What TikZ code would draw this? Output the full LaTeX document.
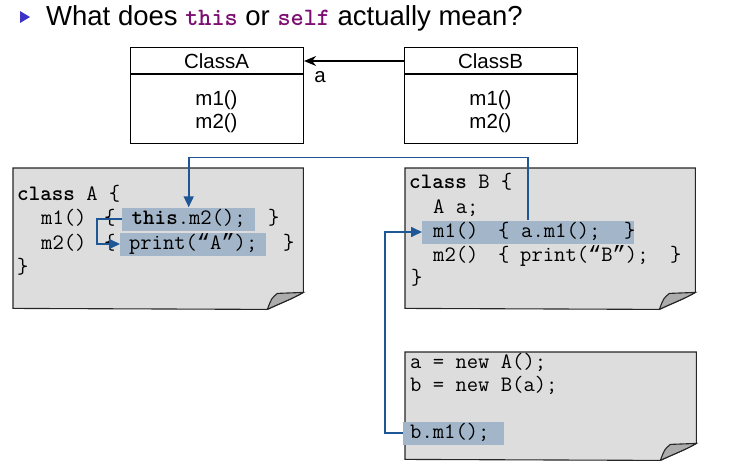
\documentclass[tikz,border=0pt]{standalone}
\usepackage{fontspec}
\setmainfont{Liberation Sans}
\newfontfamily\qfont{Liberation Mono}
\usetikzlibrary{arrows.meta,calc}
\definecolor{flowblue}{RGB}{30,86,150}
\definecolor{notegray}{RGB}{221,221,221}
\definecolor{hlblue}{RGB}{163,182,201}
\definecolor{kwpurple}{RGB}{125,15,115}
\definecolor{bulletblue}{RGB}{60,50,200}
\definecolor{flapgray}{RGB}{172,172,172}
\newcommand\codefont{\ttfamily\fontsize{22}{26}\selectfont}
\newcommand\myLq{{\qfont“}}
\newcommand\myRq{{\qfont”}}
\newcommand\drawnote[1]{%
  \filldraw[fill=notegray, draw=black!85, line width=1.1pt]
    (#1.north west) -- (#1.north east) -- ($(#1.south east)+(0,-16)$)
    .. controls ($(#1.south east)+(-12,-9)$) and ($(#1.south east)+(-26,-4)$) .. ($(#1.south east)+(-36,1)$)
    -- (#1.south west) -- cycle;
  \filldraw[fill=flapgray, draw=black!85, line width=1.1pt]
    ($(#1.south east)+(-36,1)$) .. controls ($(#1.south east)+(-32,-10)$) .. ($(#1.south east)+(-26,-15)$)
    -- ($(#1.south east)+(0,-16)$)
    .. controls ($(#1.south east)+(-12,-9)$) and ($(#1.south east)+(-26,-4)$) .. ($(#1.south east)+(-36,1)$);
}
\begin{document}
\begin{tikzpicture}[x=1pt,y=-1pt,
  code/.style={font=\codefont, anchor=west, inner sep=0pt, text height=15pt, text depth=4pt},
  hl/.style={code, fill=hlblue, inner xsep=6pt, inner ysep=2pt},
  uml/.style={draw, line width=1.1pt, minimum width=173pt, minimum height=96pt, inner sep=0pt, anchor=north west},
  umltxt/.style={font=\fontsize{20.5}{24}\selectfont, inner sep=0pt},
  notebox/.style={inner sep=0pt, anchor=north west},
  flow/.style={draw=flowblue, line width=1.6pt, -{Triangle[length=11pt,width=10pt]}}
]
\useasboundingbox (0,0) rectangle (730,474);

% title
\fill[bulletblue] (20,11) -- (30,17) -- (20,23) -- cycle;
\node[anchor=base west, inner sep=0pt, font=\fontsize{27.5}{32}\selectfont] (title) at (46,25)
  {What does {\color{kwpurple}\ttfamily\bfseries\fontsize{25}{28}\selectfont this} or {\color{kwpurple}\ttfamily\bfseries\fontsize{25}{28}\selectfont self} actually mean?};

% UML classes
\node[uml] (clsA) at (130,47) {};
\draw[line width=1.1pt] ([yshift=-27pt]clsA.north west) -- ([yshift=-27pt]clsA.north east);
\node[umltxt] (nameA) at (216.5,61) {ClassA};
\node[umltxt] (mA1) at (216.5,100) {m1()};
\node[umltxt] (mA2) at (216.5,123) {m2()};

\node[uml] (clsB) at (404,47) {};
\draw[line width=1.1pt] ([yshift=-27pt]clsB.north west) -- ([yshift=-27pt]clsB.north east);
\node[umltxt] (nameB) at (490.5,61) {ClassB};
\node[umltxt] (mB1) at (490.5,100) {m1()};
\node[umltxt] (mB2) at (490.5,123) {m2()};

\draw[line width=1.1pt, -{Stealth[length=12pt,width=10pt]}] (clsB.west |- nameB) -- (clsA.east |- nameA);
\node[umltxt] (lbla) at (320,77) {a};

% notes
\node[notebox, minimum width=290pt, minimum height=140pt] (noteA) at (13,168) {};
\drawnote{noteA}
\node[notebox, minimum width=290pt, minimum height=140pt] (noteB) at (405,168) {};
\drawnote{noteB}
\node[notebox, minimum width=291pt, minimum height=107pt] (noteC) at (405,352) {};
\drawnote{noteC}

% note A text
\node[code] (A1) at (17,195) {\textbf{class} A \{};
\node[code] (A2a) at (41,219) {m1()};
\node[code] (A2b) at (104,219) {\{};
\node[hl, minimum width=133pt] (hlA1) at (122,219) {\textbf{this}.m2();};
\node[code] (A2c) at (268,219) {\}};
\node[code] (A3a) at (41,244) {m2()};
\node[code] (A3b) at (104,244) {\{};
\node[hl, minimum width=146pt] (hlA2) at (120,244) {print(\myLq A\myRq);};
\node[code] (A3c) at (283,244) {\}};
\node[code] (A4) at (17,268) {\}};

% note B text
\node[code] (B1) at (409,183) {\textbf{class} B \{};
\node[code] (B2) at (433,208) {A a;};
\node[hl, minimum width=212pt, minimum height=22pt] (hlB) at (422,232) {};
\node[code] (B3a) at (433,232) {m1()};
\node[code] (B3b) at (498,232) {\{};
\node[code] (B3c) at (521,232) {a.m1();};
\node[code] (B3d) at (624,232) {\}};
\node[code] (B4a) at (433,256) {m2()};
\node[code] (B4b) at (498,256) {\{};
\node[code] (B4c) at (520,256) {print(\myLq B\myRq);};
\node[code] (B4d) at (670,256) {\}};
\node[code] (B5) at (411,279) {\}};

% note C text
\node[code] (C1) at (410,363) {a = new A();};
\node[code] (C2) at (410,386) {b = new B(a);};
\node[hl, inner xsep=7pt, text width=87pt] (hlC) at (403,433) {b.m1();};

% flows
\draw[flow] (hlB.north) -- ++(0,-63) -| (hlA1.north);
\draw[flow] (hlA1.west) -- ++(-25,0) |- (hlA2.west);
\draw[flow] (hlC.west) -- ++(-18,0) |- (hlB.west);
\end{tikzpicture}
\end{document}
